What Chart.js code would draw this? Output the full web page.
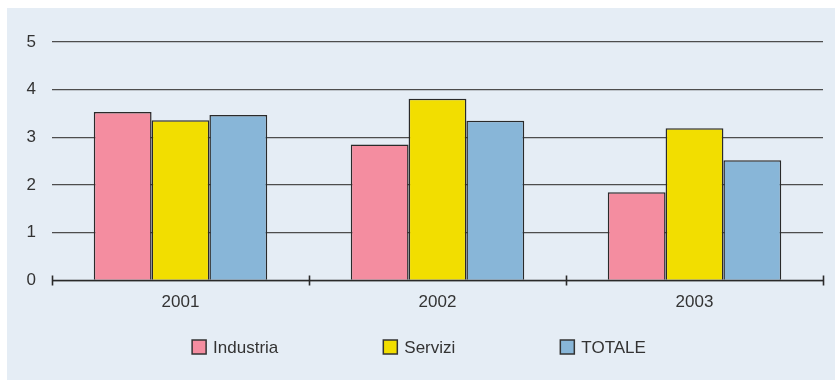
<!DOCTYPE html>
<html>
<head>
<meta charset="utf-8">
<script src="https://cdn.jsdelivr.net/npm/chart.js@4"></script>
<style>
  body { margin: 0; background: #ffffff; }
  canvas { display: block; }
</style>
</head>
<body>
<canvas id="grafico" width="835" height="380"></canvas>
<script>
var anni = ['2001', '2002', '2003'];
var industria = [3.53, 2.85, 1.85];
var servizi = [3.36, 3.81, 3.19];
var totale = [3.47, 3.35, 2.52];
var valoriAsse = [0, 1, 2, 3, 4, 5];

var font = { family: '"Liberation Sans", Arial, sans-serif', size: 17 };
var testo = '#333333';

// panel background, tick marks across the axis, legend under the axis
var sfondo = {
  id: 'sfondo',
  beforeDraw: function(chart) {
    var ctx = chart.ctx;
    ctx.save();
    ctx.fillStyle = '#e5edf5';
    ctx.fillRect(7, 8, chart.width - 7, chart.height - 8);
    ctx.restore();
  },
  afterDatasetsDraw: function(chart) {
    var ctx = chart.ctx;
    var xs = chart.scales.x;
    var base = chart.scales.y.getPixelForValue(0);
    var passo = (xs.right - xs.left) / anni.length;
    ctx.save();
    ctx.strokeStyle = '#2a2a2a';
    ctx.lineWidth = 1.6;
    ctx.beginPath();
    ctx.moveTo(xs.left, base);
    ctx.lineTo(xs.right, base);
    ctx.stroke();
    for (var i = 0; i <= anni.length; i++) {
      var x = Math.round(xs.left + i * passo) + 0.5;
      ctx.beginPath();
      ctx.moveTo(x, base - 5);
      ctx.lineTo(x, base + 5);
      ctx.stroke();
    }
    ctx.restore();
  },
  afterDraw: function(chart) {
    var ctx = chart.ctx;
    var ds = chart.data.datasets;
    ctx.save();
    ctx.font = font.size + 'px ' + font.family;
    var box = 14, gap = 7, spazio = 105;
    var larghezze = ds.map(function(d) { return box + gap + ctx.measureText(d.label).width; });
    var totaleW = larghezze.reduce(function(a, b) { return a + b; }, 0) + spazio * (ds.length - 1);
    var x = 419 - totaleW / 2;
    var y = 347;
    ds.forEach(function(d, i) {
      ctx.fillStyle = d.backgroundColor;
      ctx.fillRect(x, y - box / 2, box, box);
      ctx.strokeStyle = '#333333';
      ctx.lineWidth = 1.5;
      ctx.strokeRect(x, y - box / 2, box, box);
      ctx.fillStyle = testo;
      ctx.textBaseline = 'middle';
      ctx.fillText(d.label, x + box + gap, y + 1);
      x += larghezze[i] + spazio;
    });
    ctx.restore();
  }
};

var contexto = document.getElementById('grafico').getContext('2d');
var myChart = new Chart(contexto, {
  type: 'bar',
  data: {
    labels: anni,
    datasets: [
      { label: 'Industria', data: industria, backgroundColor: '#f48da0' },
      { label: 'Servizi', data: servizi, backgroundColor: '#f2de00' },
      { label: 'TOTALE', data: totale, backgroundColor: '#88b6d8' }
    ]
  },
  options: {
    responsive: false,
    animation: false,
    layout: { padding: { top: 42, right: 12, left: 0, bottom: 0 } },
    datasets: {
      bar: {
        categoryPercentage: 0.675,
        barPercentage: 1,
        borderColor: '#2a2a2a',
        borderWidth: 1.5
      }
    },
    plugins: {
      legend: { display: false },
      tooltip: { enabled: false }
    },
    scales: {
      x: {
        grid: { display: false, drawTicks: false },
        border: { display: false },
        ticks: { color: testo, font: font, padding: 12 },
        afterFit: function(s) { s.height = 99.5; }
      },
      y: {
        min: 0,
        max: 5,
        afterBuildTicks: function(s) { s.ticks = valoriAsse.map(function(v) { return { value: v }; }); },
        grid: { color: '#4d4d4d', lineWidth: 1.3, drawTicks: false },
        border: { display: false },
        ticks: { color: testo, font: font, padding: 16 },
        afterFit: function(s) { s.width = 52; }
      }
    }
  },
  plugins: [sfondo]
});
</script>
</body>
</html>
